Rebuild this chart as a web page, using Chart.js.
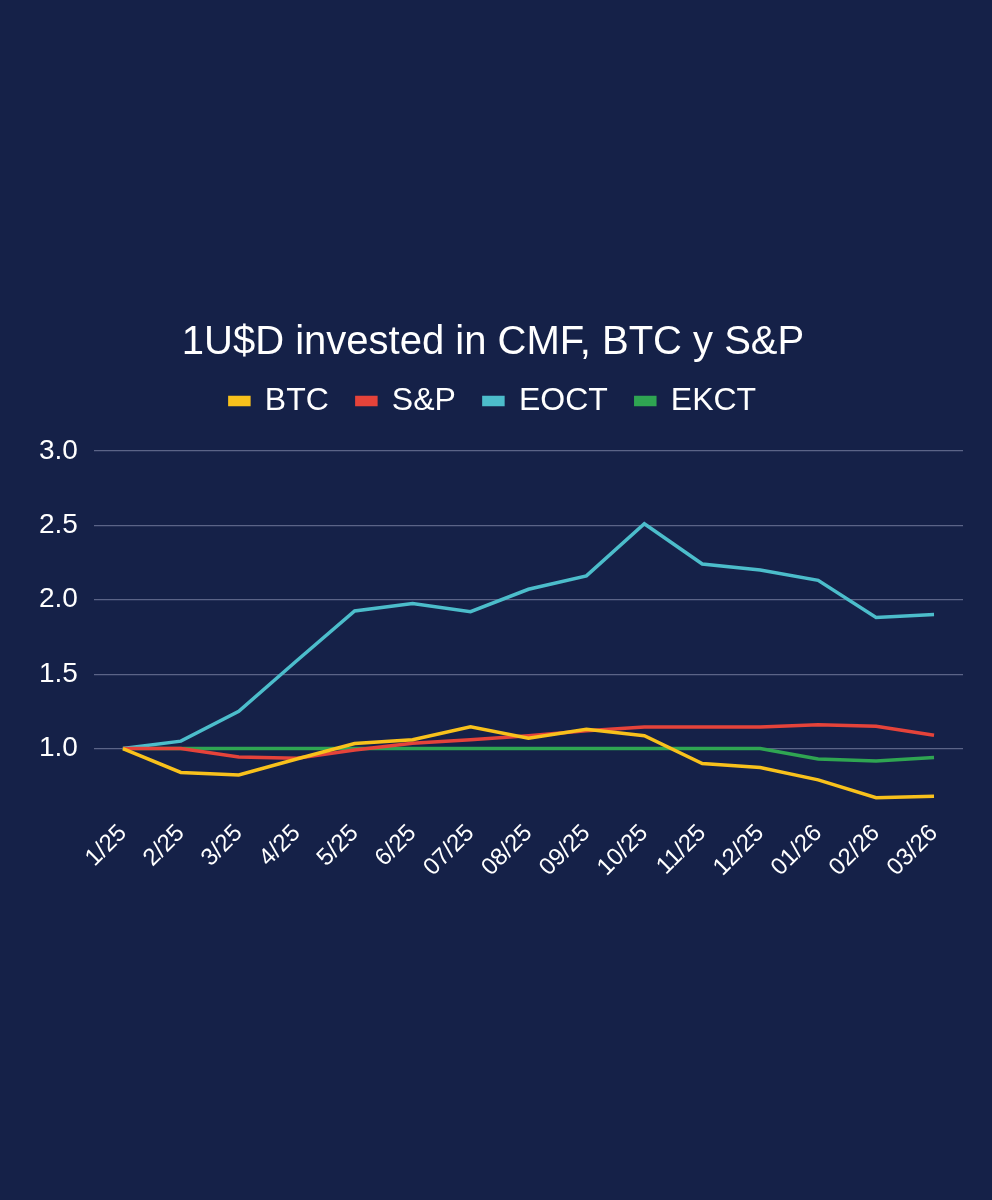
<!DOCTYPE html>
<html>
<head>
<meta charset="utf-8">
<script src="https://cdn.jsdelivr.net/npm/chart.js@4"></script>
<style>
  html, body { margin: 0; padding: 0; background: #152148; }
  #wrap { width: 992px; height: 1200px; }
</style>
</head>
<body>
<div id="wrap"><canvas id="c" width="992" height="1200"></canvas></div>
<script>
const categories = ['1/25','2/25','3/25','4/25','5/25','6/25','07/25','08/25','09/25','10/25','11/25','12/25','01/26','02/26','03/26'];
const btcValues  = [1.00, 0.84, 0.823, 0.93, 1.034, 1.06, 1.146, 1.07, 1.13, 1.087, 0.90, 0.873, 0.79, 0.67, 0.68];
const spValues   = [1.00, 1.00, 0.944, 0.935, 0.99, 1.036, 1.06, 1.087, 1.12, 1.145, 1.145, 1.145, 1.16, 1.15, 1.09];
const eoctValues = [1.00, 1.05, 1.25, 1.59, 1.924, 1.975, 1.92, 2.07, 2.16, 2.51, 2.24, 2.20, 2.13, 1.88, 1.90];
const ekctValues = [1.00, 1.00, 1.00, 1.00, 1.00, 1.00, 1.00, 1.00, 1.00, 1.00, 1.00, 1.00, 0.93, 0.917, 0.94];
const yTickValues = [1.0, 1.5, 2.0, 2.5, 3.0];
const chartTitle = '1U$D invested in CMF, BTC y S&P';

const FONT = "'Liberation Sans', Arial, Helvetica, sans-serif";
function ds(label, data, color) {
  return { label, data, borderColor: color, backgroundColor: color, borderWidth: 3.5,
           pointRadius: 0, tension: 0, fill: false };
}

new Chart(document.getElementById('c'), {
  type: 'line',
  data: {
    labels: categories,
    datasets: [
      ds('BTC', btcValues, '#F8C11C'),
      ds('S&P', spValues, '#E5433A'),
      ds('EOCT', eoctValues, '#4CBDCB'),
      ds('EKCT', ekctValues, '#2FA552')
    ]
  },
  options: {
    responsive: false,
    animation: false,
    devicePixelRatio: 1,
    layout: { padding: { top: 329, left: 23, right: 29, bottom: 315 } },
    plugins: {
      title: {
        display: true, text: chartTitle, color: '#FFFFFF',
        font: { family: FONT, size: 40, weight: 'normal', lineHeight: 0.7 },
        padding: { top: 0, bottom: 0 }
      },
      legend: {
        display: true, position: 'top',
        labels: {
          color: '#FFFFFF', boxWidth: 19, boxHeight: 7, padding: 28,
          font: { family: FONT, size: 32 }
        }
      },
      tooltip: { enabled: false }
    },
    scales: {
      x: {
        offset: true,
        grid: { display: false },
        border: { display: false },
        ticks: { color: '#FFFFFF', font: { family: FONT, size: 24 },
                 minRotation: 45, maxRotation: 45, autoSkip: false, padding: 3 }
      },
      y: {
        min: 0.6, max: 3.16,
        afterBuildTicks: (axis) => { axis.ticks = yTickValues.map(v => ({ value: v })); },
        grid: { color: '#5B6487', lineWidth: 1.2, drawTicks: false },
        border: { display: false },
        ticks: { color: '#FFFFFF', font: { family: FONT, size: 28 }, padding: 16,
                 callback: (v) => Number(v).toFixed(1) }
      }
    }
  }
});
</script>
</body>
</html>
